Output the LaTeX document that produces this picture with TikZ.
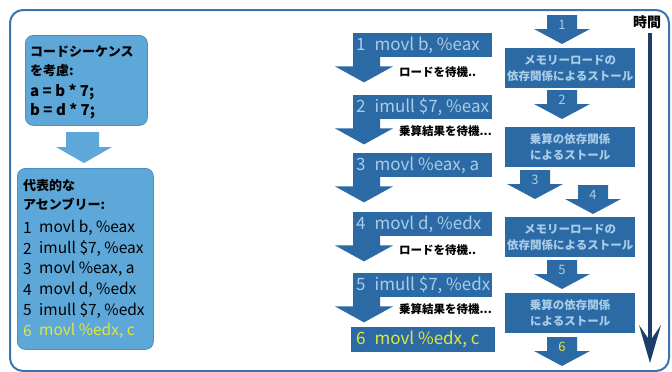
\documentclass[tikz,border=0pt]{standalone}
\usepackage{fontspec}
\setmainfont{Noto Sans CJK JP}
\usetikzlibrary{calc}
\definecolor{frameblue}{HTML}{3A74B0}
\definecolor{ltblue}{HTML}{5DA8D8}
\definecolor{ltborder}{HTML}{4A8FC2}
\definecolor{dkblue}{HTML}{2C6AA6}
\definecolor{pale}{HTML}{A9CDE8}
\definecolor{yel}{HTML}{E2E63A}
\definecolor{navy}{HTML}{1F3D6B}
\tikzset{
  leftbox/.style={draw=ltborder, line width=0.8pt, fill=ltblue, rounded corners=8pt, anchor=north west, inner sep=0pt},
  bar/.style={fill=dkblue, anchor=north west, minimum width=139pt, minimum height=24pt, inner sep=0pt},
  bartext/.style={anchor=west, font=\fontsize{17}{19}\selectfont, text=pale, inner sep=0pt},
  waittext/.style={anchor=west, font=\bfseries\fontsize{11.5}{13}\selectfont, inner sep=0pt},
  stallbox/.style={fill=dkblue, anchor=north west, minimum width=130pt, minimum height=40pt, inner sep=0pt, align=center, text=pale, font=\bfseries\fontsize{11.5}{16}\selectfont},
  lefttext/.style={anchor=west, inner sep=0pt, font=\bfseries\fontsize{13}{15}\selectfont},
  codetext/.style={anchor=west, inner sep=0pt, font=\bfseries\fontsize{15}{17}\selectfont},
  asmtext/.style={anchor=west, inner sep=0pt, font=\fontsize{15.5}{17}\selectfont},
  numlabel/.style={inner sep=0pt, font=\fontsize{13}{14}\selectfont, text=pale}
}
\newcommand\mdarrow[1]{\fill[dkblue] ([yshift=1pt]#1.south west) -- ++(27,0) -- ++(0,10) -- ++(13,0) -- ++(-29,16) -- ++(-29,-16) -- ++(18,0) -- cycle;}
% cx, top, node name, label, label color
\newcommand\rdarrow[5]{%
  \fill[dkblue] (#1-15,#2) -- (#1+15,#2) -- (#1+15,#2+14) -- (#1+28,#2+14) -- (#1,#2+29) -- (#1-28,#2+14) -- (#1-15,#2+14) -- cycle;
  \node[numlabel, text=#5] (#3) at (#1,#2+10) {#4};}
\begin{document}
\begin{tikzpicture}[x=1pt,y=-1pt]
\useasboundingbox (0,0) rectangle (672,372);
% outer frame
\draw[frameblue, line width=2pt, rounded corners=13pt] (10,10) rectangle (669,371);

% left column
\node[leftbox, minimum width=122pt, minimum height=90pt] (code) at (25,35) {};
\node[lefttext] (c1) at (30,52) {コードシーケンス};
\node[lefttext] (c2) at (30,71) {を考慮:};
\node[codetext] (c3) at (30,92) {a = b * 7;};
\node[codetext] (c4) at (30,111) {b = d * 7;};
\fill[ltblue] (66,132) -- (99,132) -- (99,147) -- (112,147) -- (84,163) -- (56,147) -- (66,147) -- cycle;
\node[leftbox, minimum width=136pt, minimum height=181pt] (asm) at (17,168) {};
\node[lefttext] (a0) at (23,186) {代表的な};
\node[lefttext] (a00) at (23,204) {アセンブリー:};
\foreach \n/\t [count=\k from 0] in {1/{movl b, \%eax}, 2/{imull \$7, \%eax}, 3/{movl \%eax, a}, 4/{movl d, \%edx}, 5/{imull \$7, \%edx}}{
  \node[asmtext] (an\n) at (23,228+20.6*\k) {\n};
  \node[asmtext] (ai\n) at (39,228+20.6*\k) {\t};
}
\node[asmtext, text=yel] (an6) at (23,331) {6};
\node[asmtext, text=yel] (ai6) at (39,331) {movl \%edx, c};

% middle column
\node[bar] (b1) at (353,33) {};
\node[bar] (b2) at (353,95) {};
\node[bar] (b3) at (353,153) {};
\node[bar] (b4) at (353,212) {};
\node[bar] (b5) at (353,273) {};
\node[bar, minimum width=144pt, minimum height=25pt] (b6) at (351,327) {};
\mdarrow{b1}\mdarrow{b2}\mdarrow{b3}\mdarrow{b4}\mdarrow{b5}
\node[bartext] at ([xshift=3pt]b1.west) {1\hspace{9pt}movl b, \%eax};
\node[bartext] at ([xshift=3pt]b2.west) {2\hspace{9pt}imull \$7, \%eax};
\node[bartext] at ([xshift=3pt]b3.west) {3\hspace{9pt}movl \%eax, a};
\node[bartext] at ([xshift=3pt]b4.west) {4\hspace{9pt}movl d, \%edx};
\node[bartext] at ([xshift=3pt]b5.west) {5\hspace{9pt}imull \$7, \%edx};
\node[bartext, text=yel] at ([xshift=5pt]b6.west) {6\hspace{9pt}movl \%edx, c};
\node[waittext] (w1) at (399,72) {ロードを待機..};
\node[waittext] (w2) at (399,131) {乗算結果を待機...};
\node[waittext] (w4) at (399,250) {ロードを待機..};
\node[waittext] (w5) at (399,309) {乗算結果を待機...};

% right column
\rdarrow{562}{15}{r1}{1}{pale}
\node[stallbox] (s1) at (505,48) {メモリーロードの\\依存関係によるストール};
\rdarrow{562}{90}{r2}{2}{pale}
\node[stallbox] (s2) at (505,127) {乗算の依存関係\\によるストール};
\rdarrow{535}{170}{r3}{3}{pale}
\rdarrow{593}{185}{r4}{4}{pale}
\node[stallbox] (s3) at (505,217) {メモリーロードの\\依存関係によるストール};
\rdarrow{562}{260}{r5}{5}{pale}
\node[stallbox] (s4) at (505,293) {乗算の依存関係\\によるストール};
\rdarrow{562}{337}{r6}{6}{yel}

% time arrow
\node[font=\bfseries\fontsize{14}{15}\selectfont, inner sep=0pt] (time) at (647,22) {時間};
\coordinate (tt) at (650,33);
\coordinate (tb) at (650,363);
\draw[navy, line width=4pt] (tt) -- ([yshift=20pt]tb);
\fill[navy] (tb) -- (639,325) -- (650,341) -- (661,325) -- cycle;
\end{tikzpicture}
\end{document}
